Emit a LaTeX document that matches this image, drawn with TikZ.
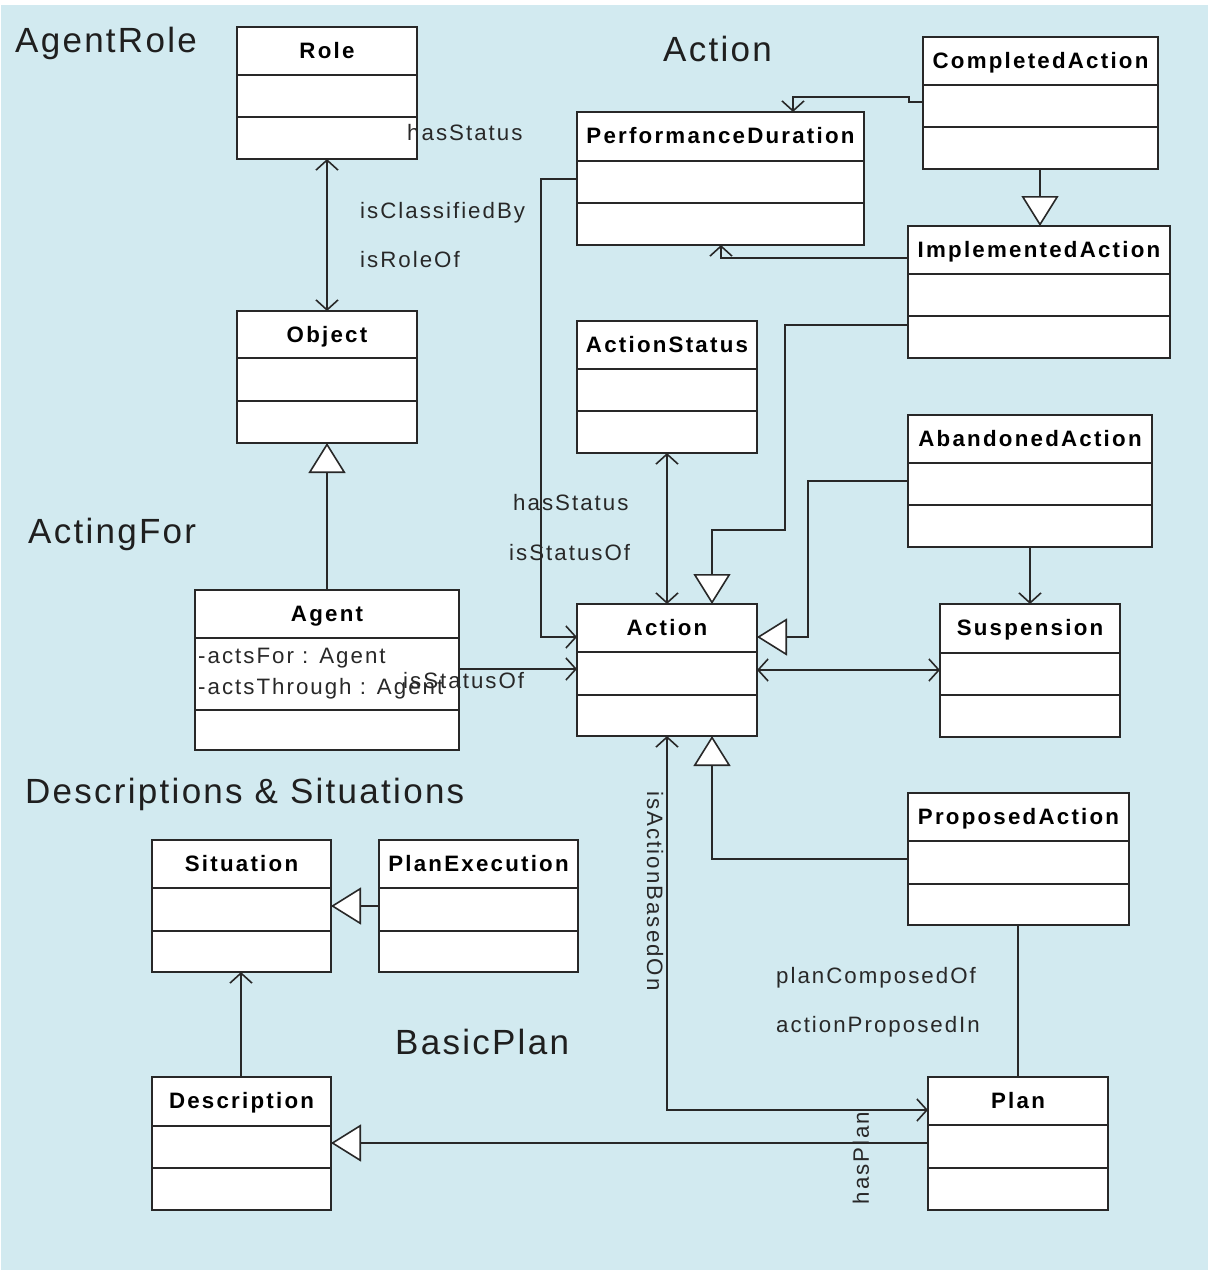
\documentclass[tikz,border=0pt]{standalone}
\usepackage{fontspec}
\setmainfont{Liberation Sans}
\newfontfamily\lblfont[LetterSpace=9]{Liberation Sans}
\newfontfamily\clsfont[LetterSpace=10]{Liberation Sans}
\newfontfamily\pkgfont[LetterSpace=6.5]{Liberation Sans}
\usetikzlibrary{arrows.meta}
\definecolor{bgblue}{RGB}{210,234,240}
\definecolor{ink}{RGB}{40,40,40}

\tikzset{
  clsbox/.style={draw=ink, fill=white, line width=1.8pt, rectangle, inner sep=0pt, outer sep=0pt},
  clsrule/.style={draw=ink, line width=1.8pt},
  clsname/.style={font=\clsfont\bfseries\fontsize{22.3}{26}\selectfont, text=black, inner sep=0pt, anchor=base},
  rolelabel/.style={font=\lblfont\fontsize{22.3}{26}\selectfont, text=ink, inner sep=0pt, anchor=base west},
  pkglabel/.style={font=\pkgfont\fontsize{35}{40}\selectfont, text=black!88, inner sep=0pt, anchor=base west},
  conn/.style={draw=ink, line width=1.6pt, line join=miter},
  assoc/.style={conn, -{Straight Barb[length=10pt,width=22pt]}},
  biassoc/.style={conn, {Straight Barb[length=10pt,width=22pt]}-{Straight Barb[length=10pt,width=22pt]}},
  generalize/.style={conn, -{Triangle[length=30pt,width=37pt,fill=white]}},
}

% UML class box: name, x1, y1, x2, y2, first rule, second rule, class name
\newcommand\umlclass[8]{%
  \node[clsbox, anchor=north west, minimum width={#4-#2}, minimum height={#5-#3}] (#1) at (#2,#3) {};
  \draw[clsrule] (#2,#6) -- (#4,#6) (#2,#7) -- (#4,#7);
  \node[clsname] (#1-name) at ({(#2+#4)/2},{#3+31.5}) {#8};
}

\begin{document}
\begin{tikzpicture}[x=1pt,y=-1pt]
  \useasboundingbox (0,0) rectangle (1208,1270);
  \fill[white] (0,0) rectangle (1208,1270);
  \fill[bgblue] (1,5) rectangle (1208,1270);

  % ---------- connectors ----------
  % Role <-> Object
  \draw[biassoc] (327,159) -- (327,311);
  % Agent specialises Object
  \draw[generalize] (327,590) -- (327,443);
  % Agent -> Action
  \draw[assoc] (459,669) -- (577,669);
  % PerformanceDuration -> Action
  \draw[assoc] (577,179) -- (541,179) -- (541,637) -- (577,637);
  % ActionStatus <-> Action
  \draw[biassoc] (667,453) -- (667,604);
  % ImplementedAction specialises Action
  \draw[generalize] (908,325) -- (785,325) -- (785,530) -- (712,530) -- (712,604);
  % AbandonedAction specialises Action
  \draw[generalize] (908,481) -- (808,481) -- (808,637) -- (757,637);
  % AbandonedAction -> Suspension
  \draw[assoc] (1030,547) -- (1030,604);
  % Action <-> Suspension
  \draw[biassoc] (757,670) -- (940,670);
  % CompletedAction specialises ImplementedAction
  \draw[generalize] (1040,169) -- (1040,226);
  % CompletedAction -> PerformanceDuration
  \draw[assoc] (923,102) -- (909,102) -- (909,97) -- (793,97) -- (793,112);
  % ImplementedAction -> PerformanceDuration
  \draw[assoc] (908,258) -- (721,258) -- (721,245);
  % ProposedAction specialises Action
  \draw[generalize] (908,859) -- (712,859) -- (712,736);
  % Action <-> Plan
  \draw[biassoc] (667,736) -- (667,1110) -- (928,1110);
  % ProposedAction -- Plan
  \draw[conn] (1018,925) -- (1018,1077);
  % Plan specialises Description
  \draw[generalize] (928,1143) -- (331,1143);
  % Description -> Situation
  \draw[assoc] (241,1077) -- (241,972);
  % PlanExecution specialises Situation
  \draw[generalize] (379,906) -- (331,906);

  % ---------- classes ----------
  \umlclass{role}{237}{27}{417}{159}{75}{117}{Role}
  \umlclass{object}{237}{311}{417}{443}{358}{401}{Object}
  \umlclass{agent}{195}{590}{459}{750}{638}{710}{Agent}
  \umlclass{action}{577}{604}{757}{736}{652}{695}{Action}
  \umlclass{perfdur}{577}{112}{864}{245}{161}{203}{PerformanceDuration}
  \umlclass{completed}{923}{37}{1158}{169}{85}{127}{CompletedAction}
  \umlclass{implemented}{908}{226}{1170}{358}{274}{316}{ImplementedAction}
  \umlclass{status}{577}{321}{757}{453}{369}{411}{ActionStatus}
  \umlclass{abandoned}{908}{415}{1152}{547}{463}{505}{AbandonedAction}
  \umlclass{suspension}{940}{604}{1120}{737}{653}{695}{Suspension}
  \umlclass{proposed}{908}{793}{1129}{925}{841}{884}{ProposedAction}
  \umlclass{plan}{928}{1077}{1108}{1210}{1125}{1168}{Plan}
  \umlclass{situation}{152}{840}{331}{972}{888}{931}{Situation}
  \umlclass{planexec}{379}{840}{578}{972}{888}{931}{PlanExecution}
  \umlclass{description}{152}{1077}{331}{1210}{1126}{1168}{Description}

  \node[rolelabel] (agent-a1) at (198,663) {-actsFor : Agent};
  \node[rolelabel] (agent-a2) at (198,694) {-actsThrough : Agent};

  % ---------- role names ----------
  \node[rolelabel] (l-hasstatus1) at (407,140) {hasStatus};
  \node[rolelabel] (l-classified) at (360,218) {isClassifiedBy};
  \node[rolelabel] (l-roleof) at (360,267) {isRoleOf};
  \node[rolelabel] (l-hasstatus2) at (513,510) {hasStatus};
  \node[rolelabel] (l-statusof1) at (509,560) {isStatusOf};
  \node[rolelabel] (l-statusof2) at (403,688) {isStatusOf};
  \node[rolelabel, anchor=center, rotate=-90] (l-basedon) at (655,891) {isActionBasedOn};
  \node[rolelabel] (l-composed) at (776,983) {planComposedOf};
  \node[rolelabel] (l-proposedin) at (776,1032) {actionProposedIn};
  \node[rolelabel, anchor=center, rotate=90] (l-hasplan) at (861,1158) {hasPlan};

  % ---------- package names ----------
  \node[pkglabel] (p-agentrole) at (15,52) {AgentRole};
  \node[pkglabel] (p-action) at (663,61) {Action};
  \node[pkglabel] (p-actingfor) at (28,543) {ActingFor};
  \node[pkglabel] (p-ds) at (25,803) {Descriptions \& Situations};
  \node[pkglabel] (p-basicplan) at (395,1054) {BasicPlan};
\end{tikzpicture}
\end{document}
